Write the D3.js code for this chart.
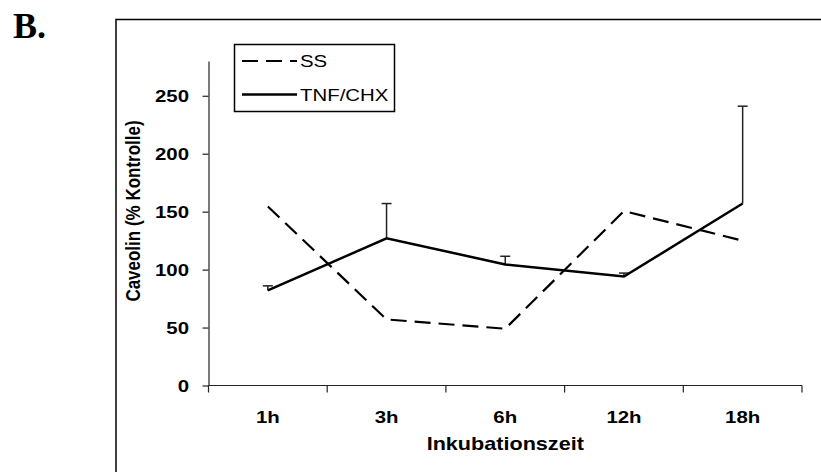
<!DOCTYPE html>
<html>
<head>
<meta charset="utf-8">
<script src="https://cdn.jsdelivr.net/npm/d3@7"></script>
<style>
  html, body { margin: 0; padding: 0; background: #fff; }
  svg { display: block; }
</style>
</head>
<body>
<svg id="chart" width="821" height="472"></svg>
<script>
const categories = ["1h", "3h", "6h", "12h", "18h"];
const ssValues = [154.5, 57, 49, 150.5, 125];
const tnfValues = [82, 127, 104.5, 94, 157];
const tnfErrors = [4, 30, 7, 3, 84];
const yTicks = [0, 50, 100, 150, 200, 250];
const seriesNames = ["SS", "TNF/CHX"];
const yTitle = "Caveolin (% Kontrolle)";
const xTitle = "Inkubationszeit";
const panelLabel = "B.";

const svg = d3.select("#chart");
const FONT = "'Liberation Sans', Arial, Helvetica, sans-serif";
const SX = 1.2; // horizontal stretch of the original text

// outer frame (runs off right and bottom edges)
svg.append("rect")
  .attr("x", 116).attr("y", 19.5).attr("width", 800).attr("height", 500)
  .attr("fill", "none").attr("stroke", "#000").attr("stroke-width", 1.5);

// panel label
svg.append("text")
  .attr("x", 13).attr("y", 38)
  .attr("font-family", "'Liberation Serif', 'Times New Roman', serif")
  .attr("font-weight", "bold").attr("font-size", 36)
  .attr("fill", "#000")
  .text(panelLabel);

const x = d3.scaleBand().domain(categories).range([208.5, 802]).padding(0);
const y = d3.scaleLinear().domain([0, 280]).range([385.5, 61]);

// Y axis
const yAxisG = svg.append("g")
  .attr("transform", "translate(208.5,0)")
  .call(d3.axisLeft(y).tickValues(yTicks).tickSize(6).tickSizeOuter(0).tickFormat(d3.format("d")));
yAxisG.select(".domain").attr("stroke", "#222").attr("stroke-width", 1.2);
yAxisG.selectAll(".tick line").attr("stroke", "#222").attr("stroke-width", 1.2);
yAxisG.selectAll(".tick text")
  .attr("font-family", FONT).attr("font-weight", "bold").attr("font-size", 17)
  .attr("fill", "#000")
  .attr("x", -19.5 / SX)
  .attr("dy", "0.35em")
  .attr("transform", `scale(${SX},1)`);

// X axis (ticks at band boundaries, labels at band centres)
const xAxisG = svg.append("g");
const [x0, x1] = x.range();
xAxisG.append("line")
  .attr("x1", x0).attr("x2", x1).attr("y1", y(0)).attr("y2", y(0))
  .attr("stroke", "#222").attr("stroke-width", 1.2);
const boundaries = categories.map(c => x(c)).concat([x1]);
xAxisG.selectAll("line.tick").data(boundaries).join("line")
  .attr("class", "tick")
  .attr("x1", d => d).attr("x2", d => d)
  .attr("y1", y(0)).attr("y2", y(0) + 7)
  .attr("stroke", "#222").attr("stroke-width", 1.2);
xAxisG.selectAll("text.lbl").data(categories).join("text")
  .attr("class", "lbl")
  .attr("transform", d => `translate(${x(d) + x.bandwidth() / 2},${y(0) + 37}) scale(${SX},1)`)
  .attr("text-anchor", "middle")
  .attr("font-family", FONT).attr("font-weight", "bold").attr("font-size", 17)
  .attr("fill", "#000")
  .text(d => d);

// axis titles
svg.append("text")
  .attr("transform", `translate(${(x0 + x1) / 2},450) scale(${SX},1)`)
  .attr("text-anchor", "middle")
  .attr("font-family", FONT).attr("font-weight", "bold").attr("font-size", 18)
  .attr("fill", "#000")
  .text(xTitle);

svg.append("text")
  .attr("transform", `translate(140,211) rotate(-90) scale(1,${SX})`)
  .attr("text-anchor", "middle")
  .attr("font-family", FONT).attr("font-weight", "bold").attr("font-size", 17)
  .attr("fill", "#000")
  .text(yTitle);

const cx = d => x(d) + x.bandwidth() / 2;
const line = d3.line().x(d => cx(d.c)).y(d => y(d.v));

// error bars (upward only) for TNF/CHX
const errData = categories.map((c, i) => ({ c, v: tnfValues[i], e: tnfErrors[i] }));
const errG = svg.append("g");
errG.selectAll("line.v").data(errData).join("line")
  .attr("class", "v")
  .attr("x1", d => cx(d.c)).attr("x2", d => cx(d.c))
  .attr("y1", d => y(d.v)).attr("y2", d => y(d.v + d.e))
  .attr("stroke", "#222").attr("stroke-width", 1.5);
errG.selectAll("line.cap").data(errData).join("line")
  .attr("class", "cap")
  .attr("x1", d => cx(d.c) - 5).attr("x2", d => cx(d.c) + 5)
  .attr("y1", d => y(d.v + d.e)).attr("y2", d => y(d.v + d.e))
  .attr("stroke", "#222").attr("stroke-width", 1.5);

// SS dashed line
svg.append("path")
  .datum(categories.map((c, i) => ({ c, v: ssValues[i] })))
  .attr("d", line)
  .attr("fill", "none").attr("stroke", "#000").attr("stroke-width", 2.2)
  .attr("stroke-dasharray", "16,8");

// TNF/CHX solid line
svg.append("path")
  .datum(categories.map((c, i) => ({ c, v: tnfValues[i] })))
  .attr("d", line)
  .attr("fill", "none").attr("stroke", "#000").attr("stroke-width", 2.5)
  .attr("stroke-linejoin", "miter");

// legend
const leg = svg.append("g");
leg.append("rect")
  .attr("x", 234.5).attr("y", 44.5).attr("width", 160).attr("height", 67)
  .attr("fill", "#fff").attr("stroke", "#000").attr("stroke-width", 1.5);
const legRows = [
  { name: seriesNames[0], y: 61, dash: "16,8", w: 2.2 },
  { name: seriesNames[1], y: 94.5, dash: null, w: 2.5 }
];
legRows.forEach(r => {
  leg.append("line")
    .attr("x1", 242).attr("x2", 297).attr("y1", r.y).attr("y2", r.y)
    .attr("stroke", "#000").attr("stroke-width", r.w)
    .attr("stroke-dasharray", r.dash);
  leg.append("text")
    .attr("transform", `translate(300,${r.y + 6}) scale(${SX},1)`)
    .attr("font-family", FONT).attr("font-size", 17)
    .attr("fill", "#000")
    .text(r.name);
});
</script>
</body>
</html>
